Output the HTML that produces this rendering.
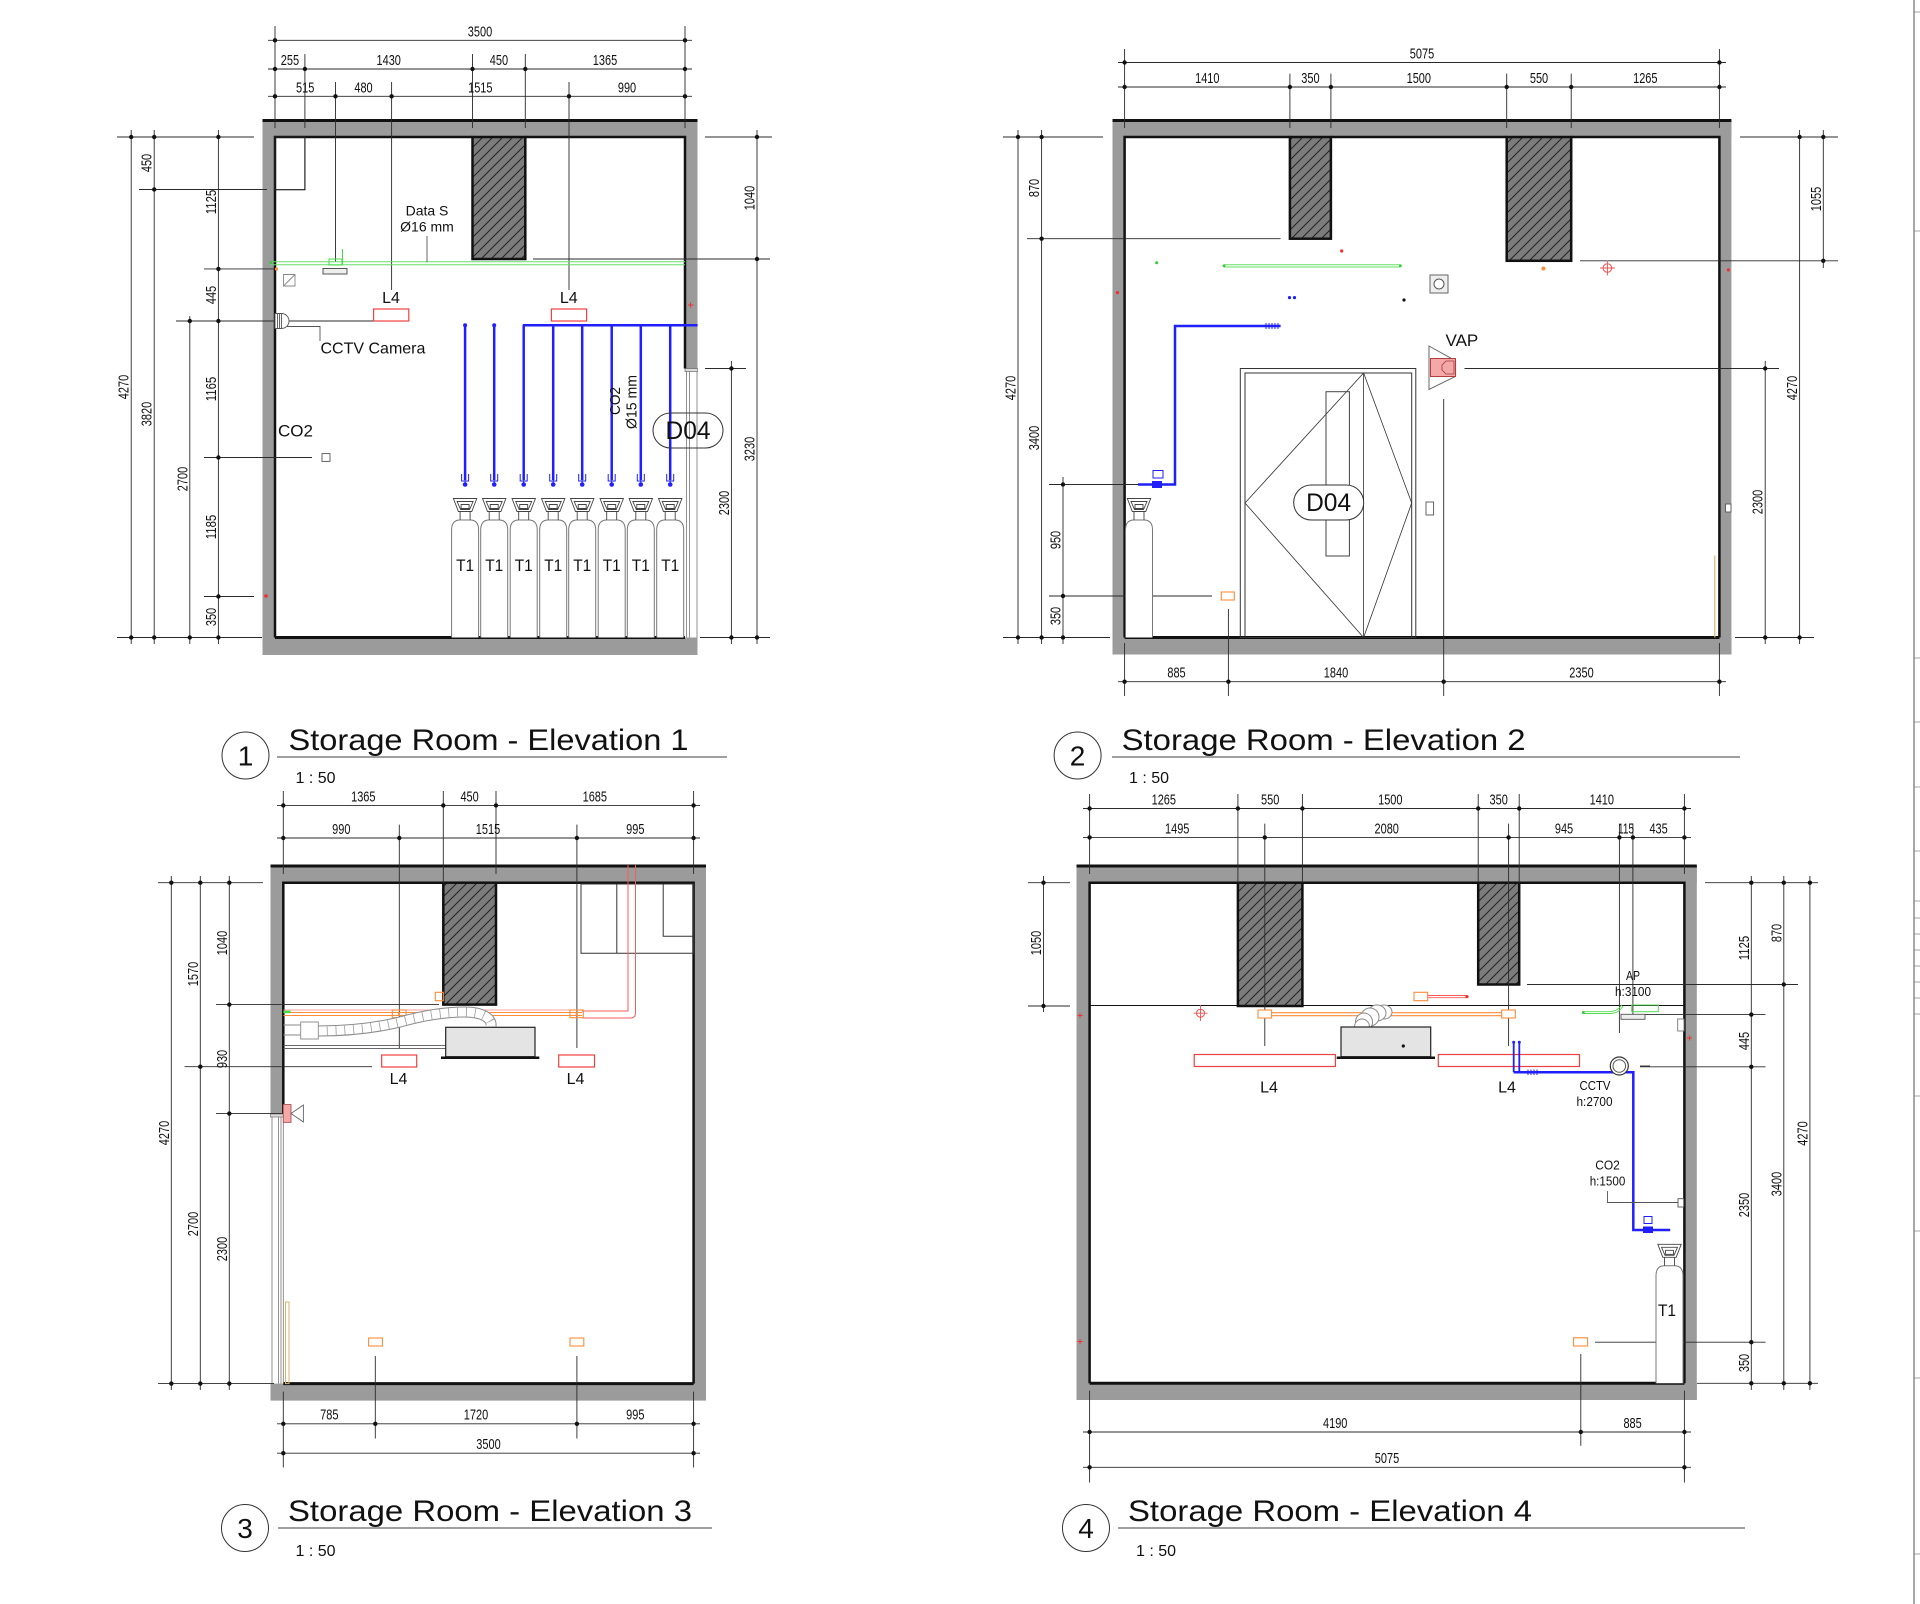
<!DOCTYPE html>
<html><head><meta charset="utf-8"><style>
html,body{margin:0;padding:0;background:#fff;}
svg{display:block;}
.w{fill:#9b9b9b;stroke:none}
.k{stroke:#111;fill:none}
.d{stroke:#2a2a2a;stroke-width:0.9;fill:none}
.dt circle{fill:#111}
text{font-family:"Liberation Sans",Arial,sans-serif;fill:#111}
.n{font-size:15px}
.lab{font-size:16px}
.sm{font-size:13px}
.tt{font-size:30px}
.bl{stroke:#1f1fff;fill:none;stroke-width:2.5}
.rr{stroke:#f04040;fill:none;stroke-width:1.2}
.or{stroke:#ff8c3a;fill:none;stroke-width:1.1}
.gr{stroke:#66e066;fill:none;stroke-width:1}
.th{stroke:#555;fill:none;stroke-width:0.9}
</style></head><body>
<svg width="1920" height="1604" viewBox="0 0 1920 1604" xmlns="http://www.w3.org/2000/svg">
<defs>
<pattern id="h" patternUnits="userSpaceOnUse" width="10" height="10"><rect width="10" height="10" fill="#7c7c7c"/><path d="M-1,1L1,-1M0,10L10,0M9,11L11,9" stroke="#222" stroke-width="1"/></pattern>
<g id="cyl"><path d="M-13.5,0V-107.5Q-13.5,-117.5 -5,-117.5H5Q13.5,-117.5 13.5,-107.5V0" fill="#fff" stroke="#777" stroke-width="1"/><path d="M-11.7,-139H11.7L6.7,-126H-6.7Z M-8,-136H8L4.5,-128H-4.5Z M-4,-133H4V-129H-4Z M-5,-126V-117.5M5,-126V-117.5" fill="none" stroke="#444" stroke-width="0.9"/></g>
<g id="noz"><path d="M-3.5,-7V0H3.5V-7M0,-2V3" stroke="#1f1fff" stroke-width="1" fill="none"/><circle cx="0" cy="3.5" r="2.3" fill="#1f1fff"/></g>
</defs>
<rect width="1920" height="1604" fill="#fff"/>

<!-- ================= ELEVATION 1 ================= -->
<rect class="w" x="262.5" y="119.5" width="435" height="17.5"/>
<rect class="w" x="262.5" y="119.5" width="12.5" height="535.5"/>
<rect class="w" x="262.5" y="637.5" width="435" height="17.5"/>
<rect class="w" x="685" y="119.5" width="12.5" height="249"/>
<path class="k" stroke-width="3" d="M262.5,120.5H697.5"/>
<path class="k" stroke-width="2.5" d="M275,637.5V137H472.5M525.3,137H685V368.5"/>
<path class="k" stroke-width="3" d="M275,637.5H685"/>
<rect x="472.5" y="137" width="52.8" height="122" fill="url(#h)" stroke="#111" stroke-width="2.5"/>
<rect x="685" y="368.5" width="12.5" height="3" fill="#ddd" stroke="#555" stroke-width="0.6"/>
<path d="M686.5,371V637.5M689.5,371V637.5M697,371V637.5" stroke="#777" stroke-width="0.8"/>
<rect x="275" y="137" width="29.9" height="52.7" fill="none" stroke="#222" stroke-width="1.2"/>
<!-- dims -->
<path class="d" d="M268,40.3H692M268,69H692M268,96.3H692M275,26V128M685,26V128M304.9,54V128M472.5,54V128M525.3,54V128M335.5,82V262M391.6,82V290M569,82V290"/>
<path class="d" d="M131.2,130V644M154.2,130V644M189.8,316V644M218.4,130V644M117,137H254M139,189.5H267M204,268.9H275M176,321H373.6M204,457.5H312M204,596.5H254M117,637.5H262"/>
<path class="d" d="M757,130V644M731.4,361V644M705,137H772M533,259H770M705,368.5H746M700,637.5H770"/>
<g class="dt">
<circle cx="275" cy="40.3" r="2.2"/><circle cx="685" cy="40.3" r="2.2"/>
<circle cx="275" cy="69" r="2.2"/><circle cx="304.9" cy="69" r="2.2"/><circle cx="472.5" cy="69" r="2.2"/><circle cx="525.3" cy="69" r="2.2"/><circle cx="685" cy="69" r="2.2"/>
<circle cx="275" cy="96.3" r="2.2"/><circle cx="335.5" cy="96.3" r="2.2"/><circle cx="391.6" cy="96.3" r="2.2"/><circle cx="569" cy="96.3" r="2.2"/><circle cx="685" cy="96.3" r="2.2"/>
<circle cx="131.2" cy="137" r="2.2"/><circle cx="131.2" cy="637.5" r="2.2"/>
<circle cx="154.2" cy="137" r="2.2"/><circle cx="154.2" cy="189.5" r="2.2"/><circle cx="154.2" cy="637.5" r="2.2"/>
<circle cx="189.8" cy="321" r="2.2"/><circle cx="189.8" cy="637.5" r="2.2"/>
<circle cx="218.4" cy="137" r="2.2"/><circle cx="218.4" cy="268.9" r="2.2"/><circle cx="218.4" cy="321" r="2.2"/><circle cx="218.4" cy="457.5" r="2.2"/><circle cx="218.4" cy="596.5" r="2.2"/><circle cx="218.4" cy="637.5" r="2.2"/>
<circle cx="757" cy="137" r="2.2"/><circle cx="757" cy="259" r="2.2"/><circle cx="757" cy="637.5" r="2.2"/>
<circle cx="731.4" cy="368.5" r="2.2"/><circle cx="731.4" cy="637.5" r="2.2"/>
</g>
<g class="n" text-anchor="middle">
<text x="480" y="36.5" textLength="24.4" lengthAdjust="spacingAndGlyphs">3500</text>
<text x="289.9" y="65" textLength="18.3" lengthAdjust="spacingAndGlyphs">255</text>
<text x="388.7" y="65" textLength="24.4" lengthAdjust="spacingAndGlyphs">1430</text>
<text x="498.9" y="65" textLength="18.3" lengthAdjust="spacingAndGlyphs">450</text>
<text x="605" y="65" textLength="24.4" lengthAdjust="spacingAndGlyphs">1365</text>
<text x="305.2" y="92.5" textLength="18.3" lengthAdjust="spacingAndGlyphs">515</text>
<text x="363.5" y="92.5" textLength="18.3" lengthAdjust="spacingAndGlyphs">480</text>
<text x="480.3" y="92.5" textLength="24.4" lengthAdjust="spacingAndGlyphs">1515</text>
<text x="627" y="92.5" textLength="18.3" lengthAdjust="spacingAndGlyphs">990</text>
<text transform="translate(128.7,387) rotate(-90)" textLength="24.4" lengthAdjust="spacingAndGlyphs">4270</text>
<text transform="translate(151.7,163) rotate(-90)" textLength="18.3" lengthAdjust="spacingAndGlyphs">450</text>
<text transform="translate(151.7,414) rotate(-90)" textLength="24.4" lengthAdjust="spacingAndGlyphs">3820</text>
<text transform="translate(187.3,479) rotate(-90)" textLength="24.4" lengthAdjust="spacingAndGlyphs">2700</text>
<text transform="translate(215.9,202) rotate(-90)" textLength="24.4" lengthAdjust="spacingAndGlyphs">1125</text>
<text transform="translate(215.9,295) rotate(-90)" textLength="18.3" lengthAdjust="spacingAndGlyphs">445</text>
<text transform="translate(215.9,389) rotate(-90)" textLength="24.4" lengthAdjust="spacingAndGlyphs">1165</text>
<text transform="translate(215.9,527) rotate(-90)" textLength="24.4" lengthAdjust="spacingAndGlyphs">1185</text>
<text transform="translate(215.9,617) rotate(-90)" textLength="18.3" lengthAdjust="spacingAndGlyphs">350</text>
<text transform="translate(754.5,198) rotate(-90)" textLength="24.4" lengthAdjust="spacingAndGlyphs">1040</text>
<text transform="translate(754.5,449) rotate(-90)" textLength="24.4" lengthAdjust="spacingAndGlyphs">3230</text>
<text transform="translate(728.9,503) rotate(-90)" textLength="24.4" lengthAdjust="spacingAndGlyphs">2300</text>
</g>
<!-- contents -->
<path class="gr" d="M271,261.8H685M271,264.8H685"/>
<circle cx="271" cy="262.5" r="1.5" fill="#33cc33"/>
<rect x="329" y="259" width="13" height="6" fill="none" stroke="#44dd44" stroke-width="1"/>
<path d="M342.5,249V265" stroke="#44dd44" stroke-width="1"/>
<rect x="323" y="268.5" width="24" height="5.5" fill="#eee" stroke="#444" stroke-width="0.9"/>
<circle cx="276.5" cy="269" r="1.6" fill="#ff8c3a"/>
<path d="M283.5,274.5H295V286H283.5ZM283.5,286L295,274.5" fill="none" stroke="#888" stroke-width="0.9"/>
<rect class="rr" x="373.6" y="309" width="35.2" height="12"/>
<rect class="rr" x="551.4" y="309" width="35.2" height="12"/>
<text class="lab" x="391" y="303" text-anchor="middle">L4</text>
<text class="lab" x="568.8" y="303" text-anchor="middle">L4</text>
<text x="427" y="215.5" text-anchor="middle" font-size="14">Data S</text>
<text x="427" y="231.5" text-anchor="middle" font-size="14">Ø16 mm</text>
<path class="th" d="M427,236V262"/>
<path d="M275,313.5H281.5V328.5H275Z M277.5,313.5V328.5 M279.5,313.5V328.5 M281.5,313.5A7.5,7.5 0 0 1 281.5,328.5" fill="#fff" stroke="#555" stroke-width="0.9"/>
<path class="th" d="M287,326.5H320V341"/>
<text class="lab" x="320.5" y="353.5">CCTV Camera</text>
<text x="278" y="436.5" font-size="17">CO2</text>
<rect x="322" y="453.6" width="8" height="7.8" fill="none" stroke="#555" stroke-width="0.9"/>
<path class="bl" d="M522.8,325.2H697.6M465.1,325.2V480M494.2,325.2V480M523.7,325.2V480M553.2,325.2V480M582.2,325.2V480M611.7,325.2V480M640.8,325.2V480M670.2,325.2V480"/>
<circle cx="465.1" cy="325.2" r="2" fill="#1f1fff"/><circle cx="494.2" cy="325.2" r="2" fill="#1f1fff"/>
<use href="#noz" x="465.1" y="481"/><use href="#noz" x="494.2" y="481"/><use href="#noz" x="523.7" y="481"/><use href="#noz" x="553.2" y="481"/><use href="#noz" x="582.2" y="481"/><use href="#noz" x="611.7" y="481"/><use href="#noz" x="640.8" y="481"/><use href="#noz" x="670.2" y="481"/>
<use href="#cyl" x="465.1" y="637.5"/><use href="#cyl" x="494.2" y="637.5"/><use href="#cyl" x="523.7" y="637.5"/><use href="#cyl" x="553.2" y="637.5"/><use href="#cyl" x="582.2" y="637.5"/><use href="#cyl" x="611.7" y="637.5"/><use href="#cyl" x="640.8" y="637.5"/><use href="#cyl" x="670.2" y="637.5"/>
<g font-size="17" text-anchor="middle">
<text x="465.1" y="571" textLength="18" lengthAdjust="spacingAndGlyphs">T1</text>
<text x="494.2" y="571" textLength="18" lengthAdjust="spacingAndGlyphs">T1</text>
<text x="523.7" y="571" textLength="18" lengthAdjust="spacingAndGlyphs">T1</text>
<text x="553.2" y="571" textLength="18" lengthAdjust="spacingAndGlyphs">T1</text>
<text x="582.2" y="571" textLength="18" lengthAdjust="spacingAndGlyphs">T1</text>
<text x="611.7" y="571" textLength="18" lengthAdjust="spacingAndGlyphs">T1</text>
<text x="640.8" y="571" textLength="18" lengthAdjust="spacingAndGlyphs">T1</text>
<text x="670.2" y="571" textLength="18" lengthAdjust="spacingAndGlyphs">T1</text>
</g>
<rect x="653" y="413" width="70" height="35" rx="17.5" fill="none" stroke="#333" stroke-width="1"/>
<text x="688" y="439" text-anchor="middle" font-size="25" textLength="45" lengthAdjust="spacingAndGlyphs">D04</text>
<text transform="translate(620,401) rotate(-90)" text-anchor="middle" font-size="15" textLength="28" lengthAdjust="spacingAndGlyphs">CO2</text>
<text transform="translate(636.5,402) rotate(-90)" text-anchor="middle" font-size="15" textLength="54" lengthAdjust="spacingAndGlyphs">Ø15 mm</text>
<circle cx="266" cy="596" r="1.8" fill="#f03030"/>
<path d="M688,305H693.5M690.6,302.3V307.7" stroke="#f03030" stroke-width="1"/>

<!-- ================= ELEVATION 2 ================= -->
<rect class="w" x="1112.5" y="119.5" width="619" height="17.5"/>
<rect class="w" x="1112.5" y="119.5" width="12.1" height="535"/>
<rect class="w" x="1112.5" y="637.5" width="619" height="17"/>
<rect class="w" x="1719.4" y="119.5" width="12" height="535"/>
<path class="k" stroke-width="3" d="M1112.5,120.5H1731.4"/>
<path class="k" stroke-width="2.5" d="M1124.6,637.5V137H1289.9M1330.9,137H1506.7M1571.2,137H1719.4V637.5"/>
<path class="k" stroke-width="3" d="M1124.6,637.5H1719.4"/>
<rect x="1289.9" y="137" width="41" height="101.7" fill="url(#h)" stroke="#111" stroke-width="2.5"/>
<rect x="1506.7" y="137" width="64.5" height="123.8" fill="url(#h)" stroke="#111" stroke-width="2.5"/>
<path class="d" d="M1118,62.5H1726M1118,87H1726M1124.6,49V128M1719.4,49V128M1289.9,73.6V128M1330.9,73.6V128M1506.7,73.6V128M1571.2,73.6V128"/>
<path class="d" d="M1018,130V644M1041.6,130V644M1063,477V644M1003,137H1103M1027,238.7H1280.6M1049,484.5H1138M1049,596H1212M1003,637.5H1110"/>
<path class="d" d="M1823.3,130V268M1799.6,130V644M1765.2,361V644M1740,137H1838M1580,260.8H1838M1464.5,368.5H1779M1735,637.5H1814"/>
<path class="d" d="M1118,681.7H1726M1124.6,643V696M1228.4,609V696M1443.7,399V696M1719.4,643V696"/>
<g class="dt">
<circle cx="1124.6" cy="62.5" r="2.2"/><circle cx="1719.4" cy="62.5" r="2.2"/>
<circle cx="1124.6" cy="87" r="2.2"/><circle cx="1289.9" cy="87" r="2.2"/><circle cx="1330.9" cy="87" r="2.2"/><circle cx="1506.7" cy="87" r="2.2"/><circle cx="1571.2" cy="87" r="2.2"/><circle cx="1719.4" cy="87" r="2.2"/>
<circle cx="1018" cy="137" r="2.2"/><circle cx="1018" cy="637.5" r="2.2"/>
<circle cx="1041.6" cy="137" r="2.2"/><circle cx="1041.6" cy="238.7" r="2.2"/><circle cx="1041.6" cy="637.5" r="2.2"/>
<circle cx="1063" cy="484.5" r="2.2"/><circle cx="1063" cy="596" r="2.2"/><circle cx="1063" cy="637.5" r="2.2"/>
<circle cx="1823.3" cy="137" r="2.2"/><circle cx="1823.3" cy="260.8" r="2.2"/>
<circle cx="1799.6" cy="137" r="2.2"/><circle cx="1799.6" cy="637.5" r="2.2"/>
<circle cx="1765.2" cy="368.5" r="2.2"/><circle cx="1765.2" cy="637.5" r="2.2"/>
<circle cx="1124.6" cy="681.7" r="2.2"/><circle cx="1228.4" cy="681.7" r="2.2"/><circle cx="1443.7" cy="681.7" r="2.2"/><circle cx="1719.4" cy="681.7" r="2.2"/>
</g>
<g class="n" text-anchor="middle">
<text x="1422" y="58.5" textLength="24.4" lengthAdjust="spacingAndGlyphs">5075</text>
<text x="1207.3" y="83" textLength="24.4" lengthAdjust="spacingAndGlyphs">1410</text>
<text x="1310.4" y="83" textLength="18.3" lengthAdjust="spacingAndGlyphs">350</text>
<text x="1418.8" y="83" textLength="24.4" lengthAdjust="spacingAndGlyphs">1500</text>
<text x="1539" y="83" textLength="18.3" lengthAdjust="spacingAndGlyphs">550</text>
<text x="1645.3" y="83" textLength="24.4" lengthAdjust="spacingAndGlyphs">1265</text>
<text transform="translate(1015.5,388) rotate(-90)" textLength="24.4" lengthAdjust="spacingAndGlyphs">4270</text>
<text transform="translate(1039.1,188) rotate(-90)" textLength="18.3" lengthAdjust="spacingAndGlyphs">870</text>
<text transform="translate(1039.1,438) rotate(-90)" textLength="24.4" lengthAdjust="spacingAndGlyphs">3400</text>
<text transform="translate(1060.5,540) rotate(-90)" textLength="18.3" lengthAdjust="spacingAndGlyphs">950</text>
<text transform="translate(1060.5,616) rotate(-90)" textLength="18.3" lengthAdjust="spacingAndGlyphs">350</text>
<text transform="translate(1820.8,199) rotate(-90)" textLength="24.4" lengthAdjust="spacingAndGlyphs">1055</text>
<text transform="translate(1797.1,388) rotate(-90)" textLength="24.4" lengthAdjust="spacingAndGlyphs">4270</text>
<text transform="translate(1762.7,502) rotate(-90)" textLength="24.4" lengthAdjust="spacingAndGlyphs">2300</text>
<text x="1176.5" y="677.5" textLength="18.3" lengthAdjust="spacingAndGlyphs">885</text>
<text x="1336" y="677.5" textLength="24.4" lengthAdjust="spacingAndGlyphs">1840</text>
<text x="1581.5" y="677.5" textLength="24.4" lengthAdjust="spacingAndGlyphs">2350</text>
</g>
<path class="gr" d="M1224,264.7H1400.4M1224,267H1400.4"/>
<circle cx="1224" cy="265.8" r="1.4" fill="#33cc33"/><circle cx="1400.4" cy="265.8" r="1.4" fill="#33cc33"/>
<circle cx="1156.7" cy="262.7" r="1.5" fill="#33cc33"/>
<circle cx="1341.7" cy="251" r="1.6" fill="#f03030"/>
<circle cx="1117.5" cy="292.6" r="1.6" fill="#f03030"/>
<circle cx="1728.4" cy="269.9" r="1.6" fill="#f03030"/>
<circle cx="1543.4" cy="268.5" r="2" fill="#ff8c3a"/>
<circle cx="1607.4" cy="268" r="4.3" fill="none" stroke="#f05050" stroke-width="1"/>
<path d="M1600,268H1615M1607.4,260.5V275.5" stroke="#f05050" stroke-width="0.9"/>
<rect x="1430" y="275" width="18" height="18" fill="#eee" stroke="#666" stroke-width="1"/>
<circle cx="1439" cy="284" r="5" fill="#fff" stroke="#555" stroke-width="1"/>
<circle cx="1289.5" cy="297.6" r="1.6" fill="#1f1fff"/><circle cx="1294.5" cy="297.6" r="1.6" fill="#1f1fff"/>
<circle cx="1404" cy="300" r="1.6" fill="#111"/>
<path class="bl" d="M1280.6,326H1175V484.5H1138"/>
<path d="M1266,323V329M1269,323V329M1272,323V329M1275,323V329M1278,323V329" stroke="#1f1fff" stroke-width="1"/>
<path d="M1153,470.5H1163V478H1153Z" fill="none" stroke="#1f1fff" stroke-width="1"/>
<rect x="1152" y="481" width="10" height="7" fill="#1f1fff"/>
<use href="#cyl" x="1139" y="637.5"/>
<rect x="1240.3" y="368.5" width="175.5" height="269" fill="none" stroke="#333" stroke-width="1"/>
<rect x="1245" y="373" width="166.7" height="264.5" fill="none" stroke="#333" stroke-width="1"/>
<path d="M1363.6,373V637.5M1363.6,373L1245,503L1363.6,637.5M1363.6,373L1411.7,503L1363.6,637.5" fill="none" stroke="#333" stroke-width="0.8"/>
<rect x="1326" y="391.7" width="23.4" height="164.3" fill="none" stroke="#444" stroke-width="1"/>
<rect x="1293.7" y="485" width="70" height="35" rx="17.5" fill="#fff" stroke="#333" stroke-width="1"/>
<text x="1328.6" y="511" text-anchor="middle" font-size="25" textLength="45" lengthAdjust="spacingAndGlyphs">D04</text>
<rect x="1426" y="502" width="7.6" height="13" fill="#fff" stroke="#555" stroke-width="0.9"/>
<path d="M1429,346L1455.6,360.8V376.3L1429,389.5Z" fill="none" stroke="#666" stroke-width="1"/>
<rect x="1430.5" y="358.5" width="25" height="18" fill="#f5a8a8" stroke="#b04040" stroke-width="1"/>
<path d="M1446,361H1454V374H1446L1442,370V365Z" fill="none" stroke="#a03a3a" stroke-width="0.8"/>
<text x="1445.5" y="346" font-size="17">VAP</text>
<rect x="1725.5" y="504" width="5.5" height="8" fill="#fff" stroke="#555" stroke-width="0.9"/>
<path d="M1714.8,555.6V637.5" stroke="#d8b56a" stroke-width="1.2"/>
<rect class="or" x="1221.3" y="592" width="13" height="8"/>

<!-- ================= ELEVATION 3 ================= -->
<rect class="w" x="270.5" y="865" width="435.5" height="17.7"/>
<rect class="w" x="270.5" y="865" width="12.8" height="249"/>
<rect class="w" x="270.5" y="1383.6" width="435.5" height="17"/>
<rect class="w" x="693.6" y="865" width="12.4" height="535.5"/>
<path class="k" stroke-width="3" d="M270.5,866H706"/>
<path class="k" stroke-width="2.5" d="M283.3,1114V882.7H443.3M496,882.7H693.6V1383.6"/>
<path class="k" stroke-width="3" d="M283.3,1383.6H693.6"/>
<rect x="443.3" y="882.7" width="52.7" height="121.9" fill="url(#h)" stroke="#111" stroke-width="2.5"/>
<rect x="270.5" y="1114" width="12.8" height="3" fill="#ddd" stroke="#555" stroke-width="0.6"/>
<path d="M272,1117V1383.6M278.4,1117V1383.6M281,1117V1383.6M283.3,1117V1383.6" stroke="#777" stroke-width="0.8"/>
<path class="d" d="M277,805.4H700M277,838H700M283.3,791V874M443.3,791V883M496,791V874M693.6,791V874M399.3,824.6V1048M576.9,824.6V1048"/>
<path class="d" d="M277,1423.8H700M277,1453.2H700M283.3,1391.6V1467.5M375.3,1356V1438.5M576.9,1356V1438.5M693.6,1391.6V1467.5"/>
<path class="d" d="M171.3,876V1390M200.3,876V1390M229.3,876V1390M158,882.7H263M216,1004.6H439M184.6,1066.7H372M216,1113.6H283M158,1383.6H274"/>
<g class="dt">
<circle cx="283.3" cy="805.4" r="2.2"/><circle cx="443.3" cy="805.4" r="2.2"/><circle cx="496" cy="805.4" r="2.2"/><circle cx="693.6" cy="805.4" r="2.2"/>
<circle cx="283.3" cy="838" r="2.2"/><circle cx="399.3" cy="838" r="2.2"/><circle cx="576.9" cy="838" r="2.2"/><circle cx="693.6" cy="838" r="2.2"/>
<circle cx="283.3" cy="1423.8" r="2.2"/><circle cx="375.3" cy="1423.8" r="2.2"/><circle cx="576.9" cy="1423.8" r="2.2"/><circle cx="693.6" cy="1423.8" r="2.2"/>
<circle cx="283.3" cy="1453.2" r="2.2"/><circle cx="693.6" cy="1453.2" r="2.2"/>
<circle cx="171.3" cy="882.7" r="2.2"/><circle cx="171.3" cy="1383.6" r="2.2"/>
<circle cx="200.3" cy="882.7" r="2.2"/><circle cx="200.3" cy="1066.7" r="2.2"/><circle cx="200.3" cy="1383.6" r="2.2"/>
<circle cx="229.3" cy="882.7" r="2.2"/><circle cx="229.3" cy="1004.6" r="2.2"/><circle cx="229.3" cy="1113.6" r="2.2"/><circle cx="229.3" cy="1383.6" r="2.2"/>
</g>
<g class="n" text-anchor="middle">
<text x="363.3" y="801.5" textLength="24.4" lengthAdjust="spacingAndGlyphs">1365</text>
<text x="469.6" y="801.5" textLength="18.3" lengthAdjust="spacingAndGlyphs">450</text>
<text x="594.8" y="801.5" textLength="24.4" lengthAdjust="spacingAndGlyphs">1685</text>
<text x="341.3" y="834" textLength="18.3" lengthAdjust="spacingAndGlyphs">990</text>
<text x="488" y="834" textLength="24.4" lengthAdjust="spacingAndGlyphs">1515</text>
<text x="635.3" y="834" textLength="18.3" lengthAdjust="spacingAndGlyphs">995</text>
<text x="329.3" y="1419.5" textLength="18.3" lengthAdjust="spacingAndGlyphs">785</text>
<text x="476" y="1419.5" textLength="24.4" lengthAdjust="spacingAndGlyphs">1720</text>
<text x="635.3" y="1419.5" textLength="18.3" lengthAdjust="spacingAndGlyphs">995</text>
<text x="488.5" y="1449" textLength="24.4" lengthAdjust="spacingAndGlyphs">3500</text>
<text transform="translate(168.8,1133) rotate(-90)" textLength="24.4" lengthAdjust="spacingAndGlyphs">4270</text>
<text transform="translate(197.8,974) rotate(-90)" textLength="24.4" lengthAdjust="spacingAndGlyphs">1570</text>
<text transform="translate(197.8,1224) rotate(-90)" textLength="24.4" lengthAdjust="spacingAndGlyphs">2700</text>
<text transform="translate(226.8,943) rotate(-90)" textLength="24.4" lengthAdjust="spacingAndGlyphs">1040</text>
<text transform="translate(226.8,1059) rotate(-90)" textLength="18.3" lengthAdjust="spacingAndGlyphs">930</text>
<text transform="translate(226.8,1249) rotate(-90)" textLength="24.4" lengthAdjust="spacingAndGlyphs">2300</text>
</g>
<path d="M581,884H693.6V953.2H581ZM616.8,884V953.2M663.2,884V936.2H693.6" fill="none" stroke="#333" stroke-width="1"/>
<path d="M628,865V1011H582M635.5,865V1013Q635.5,1018 630.5,1018H582" fill="none" stroke="#ff5a5a" stroke-width="1"/>
<path d="M283.3,1010H582" stroke="#ff8888" stroke-width="0.8"/>
<path class="or" d="M283.3,1012.5H582M283.3,1015.5H582"/>
<rect class="or" x="392.3" y="1010" width="13.7" height="7.7"/>
<rect class="or" x="570" y="1010" width="13.3" height="7.7"/>
<circle cx="399" cy="1014" r="1.2" fill="#ff8c3a"/><circle cx="576.7" cy="1014" r="1.2" fill="#ff8c3a"/>
<rect class="or" x="435.3" y="992.3" width="8" height="8.4"/>
<rect x="283.5" y="1010.7" width="7" height="2.5" fill="#44dd44"/>
<path d="M283.3,1025H300.7M283.3,1035H300.7" stroke="#888" stroke-width="0.9"/>
<rect x="300.7" y="1022" width="17.6" height="17" fill="#fff" stroke="#888" stroke-width="0.9"/>
<path d="M318,1031C350,1031 375,1028 400,1022C425,1015 445,1012 465,1012C482,1012 492,1018 491,1026" fill="none" stroke="#8a8a8a" stroke-width="11"/>
<path d="M318,1031C350,1031 375,1028 400,1022C425,1015 445,1012 465,1012C482,1012 492,1018 491,1026" fill="none" stroke="#fff" stroke-width="9"/>
<path d="M318,1031C350,1031 375,1028 400,1022C425,1015 445,1012 465,1012C482,1012 492,1018 491,1026" fill="none" stroke="#9a9a9a" stroke-width="9" stroke-dasharray="0.8 8"/>
<path d="M283.3,1045.6H445.4M283.3,1048.4H445.4" stroke="#555" stroke-width="0.9"/>
<rect x="445.7" y="1027.3" width="89.3" height="29.4" fill="#e4e4e4" stroke="#222" stroke-width="1.2"/>
<path class="k" stroke-width="2.5" d="M441,1057.8H539.3"/>
<rect class="rr" x="381.7" y="1055" width="35" height="12"/>
<rect class="rr" x="558.7" y="1055" width="35.8" height="12"/>
<text class="lab" x="398.5" y="1084" text-anchor="middle">L4</text>
<text class="lab" x="575.5" y="1084" text-anchor="middle">L4</text>
<rect x="283.3" y="1104.5" width="7.7" height="17.9" fill="#f5a8a8" stroke="#b05050" stroke-width="0.9"/>
<path d="M291,1113.5L303.4,1105V1122Z" fill="none" stroke="#666" stroke-width="0.9"/>
<rect x="285.5" y="1302" width="3.5" height="81.6" fill="none" stroke="#d8b56a" stroke-width="1"/>
<rect class="or" x="368.6" y="1338" width="13.8" height="8"/>
<rect class="or" x="570" y="1338" width="13.8" height="8"/>

<!-- ================= ELEVATION 4 ================= -->
<rect class="w" x="1076.5" y="865" width="620.3" height="17.7"/>
<rect class="w" x="1076.5" y="865" width="13.1" height="535"/>
<rect class="w" x="1076.5" y="1383.3" width="620.3" height="16.7"/>
<rect class="w" x="1684.4" y="865" width="12.4" height="535"/>
<path class="k" stroke-width="3" d="M1076.5,866H1696.8"/>
<path class="k" stroke-width="2.5" d="M1089.6,1383.3V882.7H1237.9M1302.4,882.7H1478.2M1519.2,882.7H1684.4V1383.3"/>
<path class="k" stroke-width="3" d="M1089.6,1383.3H1684.4"/>
<path class="k" stroke-width="1" d="M1089.6,1005.5H1684.4"/>
<rect x="1237.9" y="882.7" width="64.5" height="123.3" fill="url(#h)" stroke="#111" stroke-width="2.5"/>
<rect x="1478.2" y="882.7" width="41" height="101.8" fill="url(#h)" stroke="#111" stroke-width="2.5"/>
<path class="d" d="M1083,808.5H1691M1083,837.4H1691M1089.6,794V874M1684.4,794V874M1237.9,794V883M1302.4,794V883M1478.2,794V883M1519.2,794V883M1264.8,823.6V1046M1508.6,823.6V1046M1619.4,823.6V1033M1632.9,823.6V1014"/>
<path class="d" d="M1083,1432H1691M1083,1467.3H1691M1089.6,1390.6V1482.5M1580.8,1354V1445.7M1684.4,1390.6V1482.5"/>
<path class="d" d="M1043.5,876V1012M1028,882.7H1070M1028,1006H1070"/>
<path class="d" d="M1751.3,876V1390M1783.8,876V1390M1809.9,876V1390M1705,882.7H1818M1527,984.5H1798M1645,1014.6H1765.5M1640,1066.8H1765.5M1595,1342.2H1765.5M1697,1383.3H1818"/>
<g class="dt">
<circle cx="1089.6" cy="808.5" r="2.2"/><circle cx="1237.9" cy="808.5" r="2.2"/><circle cx="1302.4" cy="808.5" r="2.2"/><circle cx="1478.2" cy="808.5" r="2.2"/><circle cx="1519.2" cy="808.5" r="2.2"/><circle cx="1684.4" cy="808.5" r="2.2"/>
<circle cx="1089.6" cy="837.4" r="2.2"/><circle cx="1264.8" cy="837.4" r="2.2"/><circle cx="1508.6" cy="837.4" r="2.2"/><circle cx="1619.4" cy="837.4" r="2.2"/><circle cx="1632.9" cy="837.4" r="2.2"/><circle cx="1684.4" cy="837.4" r="2.2"/>
<circle cx="1089.6" cy="1432" r="2.2"/><circle cx="1580.8" cy="1432" r="2.2"/><circle cx="1684.4" cy="1432" r="2.2"/>
<circle cx="1089.6" cy="1467.3" r="2.2"/><circle cx="1684.4" cy="1467.3" r="2.2"/>
<circle cx="1043.5" cy="882.7" r="2.2"/><circle cx="1043.5" cy="1006" r="2.2"/>
<circle cx="1751.3" cy="882.7" r="2.2"/><circle cx="1751.3" cy="1014.6" r="2.2"/><circle cx="1751.3" cy="1066.8" r="2.2"/><circle cx="1751.3" cy="1342.2" r="2.2"/><circle cx="1751.3" cy="1383.3" r="2.2"/>
<circle cx="1783.8" cy="882.7" r="2.2"/><circle cx="1783.8" cy="984.5" r="2.2"/><circle cx="1783.8" cy="1383.3" r="2.2"/>
<circle cx="1809.9" cy="882.7" r="2.2"/><circle cx="1809.9" cy="1383.3" r="2.2"/>
</g>
<g class="n" text-anchor="middle">
<text x="1163.8" y="804.5" textLength="24.4" lengthAdjust="spacingAndGlyphs">1265</text>
<text x="1270.2" y="804.5" textLength="18.3" lengthAdjust="spacingAndGlyphs">550</text>
<text x="1390.3" y="804.5" textLength="24.4" lengthAdjust="spacingAndGlyphs">1500</text>
<text x="1498.7" y="804.5" textLength="18.3" lengthAdjust="spacingAndGlyphs">350</text>
<text x="1601.8" y="804.5" textLength="24.4" lengthAdjust="spacingAndGlyphs">1410</text>
<text x="1177.2" y="833.5" textLength="24.4" lengthAdjust="spacingAndGlyphs">1495</text>
<text x="1386.7" y="833.5" textLength="24.4" lengthAdjust="spacingAndGlyphs">2080</text>
<text x="1564" y="833.5" textLength="18.3" lengthAdjust="spacingAndGlyphs">945</text>
<text x="1626" y="833.5" textLength="16" lengthAdjust="spacingAndGlyphs">115</text>
<text x="1658.6" y="833.5" textLength="18.3" lengthAdjust="spacingAndGlyphs">435</text>
<text x="1335.2" y="1428" textLength="24.4" lengthAdjust="spacingAndGlyphs">4190</text>
<text x="1632.6" y="1428" textLength="18.3" lengthAdjust="spacingAndGlyphs">885</text>
<text x="1387" y="1463" textLength="24.4" lengthAdjust="spacingAndGlyphs">5075</text>
<text transform="translate(1041,943) rotate(-90)" textLength="24.4" lengthAdjust="spacingAndGlyphs">1050</text>
<text transform="translate(1748.8,948) rotate(-90)" textLength="24.4" lengthAdjust="spacingAndGlyphs">1125</text>
<text transform="translate(1748.8,1041) rotate(-90)" textLength="18.3" lengthAdjust="spacingAndGlyphs">445</text>
<text transform="translate(1748.8,1205) rotate(-90)" textLength="24.4" lengthAdjust="spacingAndGlyphs">2350</text>
<text transform="translate(1748.8,1363) rotate(-90)" textLength="18.3" lengthAdjust="spacingAndGlyphs">350</text>
<text transform="translate(1781.3,933) rotate(-90)" textLength="18.3" lengthAdjust="spacingAndGlyphs">870</text>
<text transform="translate(1781.3,1184) rotate(-90)" textLength="24.4" lengthAdjust="spacingAndGlyphs">3400</text>
<text transform="translate(1807.4,1133.5) rotate(-90)" textLength="24.4" lengthAdjust="spacingAndGlyphs">4270</text>
</g>
<path class="or" d="M1258,1012.7H1515.3M1258,1015.7H1515.3"/>
<rect x="1258" y="1010" width="13.6" height="8" fill="#fff" stroke="#ff8c3a" stroke-width="1.1"/>
<rect x="1501.7" y="1010" width="13.6" height="8" fill="#fff" stroke="#ff8c3a" stroke-width="1.1"/>
<rect class="or" x="1414" y="992.3" width="13.7" height="8.4"/>
<path d="M1427.7,995.5H1466.7M1427.7,997.7H1466.7" stroke="#ff5a5a" stroke-width="0.9"/>
<circle cx="1467" cy="996.6" r="1.6" fill="#f03030"/>
<circle cx="1200.5" cy="1013.2" r="4" fill="none" stroke="#f05050" stroke-width="1"/>
<path d="M1193.5,1013.2H1207.5M1200.5,1005V1021" stroke="#f05050" stroke-width="0.9"/>
<path d="M1077.5,1015.5H1082.5M1080,1013V1018M1077.5,1341.5H1082.5M1080,1339V1344M1687,1038H1692M1689.6,1035.5V1040.5" stroke="#f03030" stroke-width="1"/>
<g stroke="#8a8a8a" fill="#fff" stroke-width="1">
<ellipse cx="1384" cy="1012" rx="8" ry="7"/>
<ellipse cx="1377" cy="1013" rx="9" ry="8"/>
<ellipse cx="1370" cy="1017" rx="9" ry="9"/>
<ellipse cx="1364" cy="1022" rx="8.5" ry="9"/>
<ellipse cx="1362" cy="1027" rx="7.5" ry="8"/>
</g>
<rect x="1341" y="1027" width="89.7" height="29.7" fill="#e4e4e4" stroke="#222" stroke-width="1.2"/>
<path class="k" stroke-width="2.5" d="M1336.7,1057.8H1435"/>
<circle cx="1403.3" cy="1046" r="1.6" fill="#111"/>
<rect class="rr" x="1194.2" y="1054.5" width="141.2" height="12"/>
<rect class="rr" x="1438.3" y="1054.5" width="141.2" height="12"/>
<text class="lab" x="1269" y="1092.5" text-anchor="middle">L4</text>
<text class="lab" x="1507" y="1092.5" text-anchor="middle">L4</text>
<path d="M1513.7,1042.3V1072.3M1519.3,1042.3V1072.3" stroke="#1f1fff" stroke-width="1.8"/>
<circle cx="1513.7" cy="1042.3" r="1.5" fill="#1f1fff"/><circle cx="1519.3" cy="1042.3" r="1.5" fill="#1f1fff"/>
<path class="bl" d="M1513.7,1072.3H1633.3V1230H1670.2"/>
<path d="M1528,1069.5V1075M1531,1069.5V1075M1534,1069.5V1075M1537,1069.5V1075" stroke="#1f1fff" stroke-width="1"/>
<path d="M1644,1216.5H1652V1223.5H1644Z" fill="none" stroke="#1f1fff" stroke-width="1"/>
<rect x="1643" y="1226.5" width="10" height="6.5" fill="#1f1fff"/>
<circle cx="1619.3" cy="1066" r="9" fill="#fff" stroke="#333" stroke-width="1.2"/>
<circle cx="1619.3" cy="1066" r="6.3" fill="none" stroke="#555" stroke-width="1"/>
<path class="d" d="M1640,1066H1650"/>
<g class="sm" text-anchor="middle">
<text x="1595" y="1090" textLength="31" lengthAdjust="spacingAndGlyphs">CCTV</text>
<text x="1594.5" y="1106" textLength="36" lengthAdjust="spacingAndGlyphs">h:2700</text>
<text x="1633" y="980" textLength="14" lengthAdjust="spacingAndGlyphs">AP</text>
<text x="1633" y="996" textLength="36" lengthAdjust="spacingAndGlyphs">h:3100</text>
<text x="1607.5" y="1169.5" textLength="24.6" lengthAdjust="spacingAndGlyphs">CO2</text>
<text x="1607.5" y="1185.5" textLength="35.6" lengthAdjust="spacingAndGlyphs">h:1500</text>
</g>
<path d="M1583.3,1011.7H1610Q1618,1011 1621.7,1005M1583.3,1013.5H1611Q1619,1013 1623,1006" fill="none" stroke="#55dd55" stroke-width="0.9"/>
<circle cx="1583.3" cy="1012.5" r="1.4" fill="#33cc33"/>
<rect x="1631.7" y="1005" width="26.6" height="6.7" fill="none" stroke="#55dd55" stroke-width="1"/>
<rect x="1621" y="1014.3" width="24" height="5" fill="#eee" stroke="#555" stroke-width="0.9"/>
<rect x="1677.7" y="1019" width="6.3" height="12" fill="#fff" stroke="#777" stroke-width="0.9"/>
<path class="th" d="M1607.5,1191V1202.5H1678"/>
<rect x="1678" y="1198.7" width="5.7" height="8.3" fill="#fff" stroke="#555" stroke-width="0.9"/>
<use href="#cyl" x="1669.5" y="1383.3"/>
<text x="1667" y="1316" text-anchor="middle" font-size="17" textLength="18" lengthAdjust="spacingAndGlyphs">T1</text>
<rect class="or" x="1573.5" y="1337.8" width="14.1" height="8.2"/>

<!-- ================= TITLES ================= -->
<g fill="none" stroke="#333" stroke-width="1">
<circle cx="245.5" cy="755.5" r="23.5"/>
<circle cx="1077.6" cy="755.5" r="23.5"/>
<circle cx="245" cy="1528" r="23.5"/>
<circle cx="1086" cy="1528" r="23.5"/>
</g>
<path d="M277,757H727M1112,757H1740M278,1528H712M1118,1528H1745" stroke="#666" stroke-width="1.2"/>
<g font-size="28" text-anchor="middle">
<text x="245.5" y="765.5">1</text>
<text x="1077.6" y="765.5">2</text>
<text x="245" y="1538">3</text>
<text x="1086" y="1538">4</text>
</g>
<g class="tt">
<text x="288.5" y="750" textLength="400" lengthAdjust="spacingAndGlyphs">Storage Room - Elevation 1</text>
<text x="1121.6" y="750" textLength="404" lengthAdjust="spacingAndGlyphs">Storage Room - Elevation 2</text>
<text x="288" y="1521" textLength="404" lengthAdjust="spacingAndGlyphs">Storage Room - Elevation 3</text>
<text x="1128" y="1521" textLength="404" lengthAdjust="spacingAndGlyphs">Storage Room - Elevation 4</text>
</g>
<g font-size="16">
<text x="295.5" y="783">1 : 50</text>
<text x="1129" y="783">1 : 50</text>
<text x="295.5" y="1556">1 : 50</text>
<text x="1136" y="1556">1 : 50</text>
</g>

<!-- right border strip -->
<path d="M1914,0V1604" stroke="#a8a8a8" stroke-width="2"/>
<path d="M1914,12H1920M1914,231H1920M1914,658H1920M1914,722H1920M1914,787H1920M1914,851H1920M1914,901H1920M1914,918H1920M1914,934H1920M1914,950H1920M1914,966H1920M1914,982H1920M1914,998H1920M1914,1014H1920M1914,1096H1920M1914,1231H1920M1914,1378H1920M1914,1554H1920" stroke="#888" stroke-width="0.8"/>
</svg>
</body></html>
